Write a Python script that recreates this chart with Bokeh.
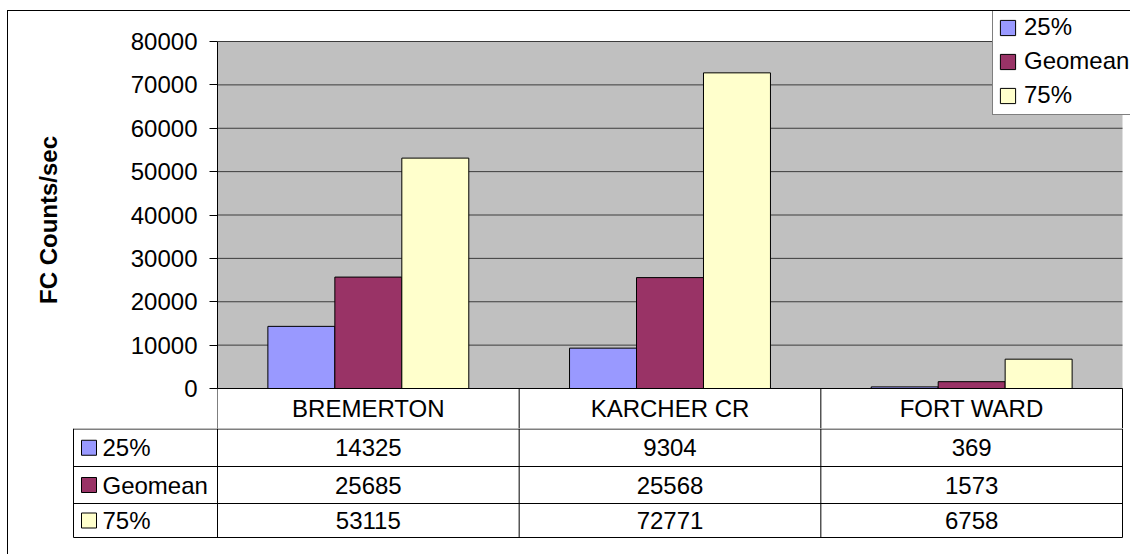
from bokeh.plotting import figure
from bokeh.models import (ColumnDataSource, Range1d, FixedTicker, NumeralTickFormatter,
                          Legend, LegendItem, BoxAnnotation)
from bokeh.transform import dodge
from bokeh.layouts import column
from bokeh.core.properties import value
from bokeh.embed import file_html
from bokeh.resources import INLINE

# ---------------- data ----------------
categories = ["BREMERTON", "KARCHER CR", "FORT WARD"]
series_names = ["25%", "Geomean", "75%"]
p25 = [14325, 9304, 369]
geomean = [25685, 25568, 1573]
p75 = [53115, 72771, 6758]
y_ticks = [0, 10000, 20000, 30000, 40000, 50000, 60000, 70000, 80000]
y_title = "FC Counts/sec"

# ---------------- style / layout ----------------
colors = ["#9999FF", "#993366", "#FFFFCC"]
FONT = "Liberation Sans"
FS = "24px"

ORIGIN_X, ORIGIN_Y = 8, 11          # canvas origin on the page (after css margin + border)
W = 1122
FRAME_LEFT, FRAME_RIGHT = 217, 1122  # gray plot area, page px
Y_TOP_PX, Y_ZERO_PX = 41, 388        # page px of top tick and of zero
HEADER_BOTTOM = 428
TABLE_LEFT = 73
TABLE_ROWS_PX = [428, 466, 503, 537]
TOP_H = HEADER_BOTTOM - ORIGIN_Y
BOT_H = 126

ncat = len(categories)
nser = len(series_names)
series_values = [p25, geomean, p75]
fields = ["s0", "s1", "s2"]
data = {"cat": categories, "xi": [i + 0.5 for i in range(ncat)]}
for f, v in zip(fields, series_values):
    data[f] = v
src = ColumnDataSource(data)

ppu = (FRAME_RIGHT - FRAME_LEFT) / ncat                # px per category
vpp = y_ticks[-1] / (Y_ZERO_PX - Y_TOP_PX)             # value per px
x_end = ncat + (ORIGIN_X + W - FRAME_RIGHT) / ppu
y_end = y_ticks[-1] + (Y_TOP_PX - ORIGIN_Y) * vpp
y_start = -(HEADER_BOTTOM - Y_ZERO_PX) * vpp

pA = figure(width=W, height=TOP_H,
            x_range=Range1d(0, x_end), y_range=Range1d(y_start, y_end),
            output_backend="svg", toolbar_location=None,
            min_border_left=FRAME_LEFT - ORIGIN_X, min_border_right=0,
            min_border_top=0, min_border_bottom=0,
            background_fill_color="white", border_fill_color="white",
            outline_line_color=None)
pA.frame_align = False

pA.add_layout(BoxAnnotation(left=0, right=ncat, bottom=0, top=y_ticks[-1],
                            fill_color="#C0C0C0", fill_alpha=1, line_color=None, level="image"))
pA.xaxis.visible = False
pA.grid.visible = False
pA.segment(x0=[0] * len(y_ticks), x1=[ncat] * len(y_ticks), y0=y_ticks, y1=y_ticks,
           line_color="#3c3c3c", line_width=1)

bw = 0.222
renderers = []
for i, (f, c) in enumerate(zip(fields, colors)):
    r = pA.vbar(x=dodge("xi", (i - (nser - 1) / 2) * bw), top=f, bottom=0,
                width=bw, source=src, fill_color=c, line_color="black", line_width=1)
    renderers.append(r)

# table header row (under the plot area)
pA.segment(x0=[0], x1=[ncat], y0=[0], y1=[0], line_color="black", line_width=1)
pA.segment(x0=list(range(ncat + 1)), x1=list(range(ncat + 1)), y0=[0] * (ncat + 1),
           y1=[y_start] * (ncat + 1), line_color="black", line_width=1)
pA.text(x="xi", y=0, text="cat", source=src, y_offset=(HEADER_BOTTOM - Y_ZERO_PX) / 2,
        text_font=value(FONT), text_font_size=FS, text_align="center",
        text_baseline="middle", text_color="black")

ax = pA.yaxis[0]
ax.bounds = (y_ticks[0], y_ticks[-1])
ax.ticker = FixedTicker(ticks=y_ticks)
ax.formatter = NumeralTickFormatter(format="0")
ax.major_tick_out = 8
ax.major_tick_in = 0
ax.minor_tick_out = 0
ax.minor_tick_in = 0
ax.major_tick_line_color = "black"
ax.major_label_standoff = 12
ax.major_label_text_font = FONT
ax.major_label_text_font_size = FS
ax.major_label_text_color = "black"
ax.axis_line_color = "black"
ax.axis_label = y_title
ax.axis_label_text_font = FONT
ax.axis_label_text_font_size = FS
ax.axis_label_text_font_style = "bold"
ax.axis_label_text_color = "black"
ax.axis_label_standoff = 66

legend = Legend(items=[LegendItem(label=nm, renderers=[r]) for nm, r in zip(series_names, renderers)],
                location=(992 - FRAME_LEFT, HEADER_BOTTOM - 115), orientation="vertical",
                label_text_font=FONT, label_text_font_size=FS, label_text_color="black",
                glyph_width=19, glyph_height=19, label_standoff=7,
                padding=5, spacing=6, margin=0,
                border_line_color="black", border_line_width=1,
                background_fill_color="white", background_fill_alpha=1)
pA.add_layout(legend)

# ---------------- data table rows ----------------
x0 = -(FRAME_LEFT - ORIGIN_X) / ppu
xl = -(FRAME_LEFT - TABLE_LEFT) / ppu

pB = figure(width=W, height=BOT_H, x_range=Range1d(x0, x_end), y_range=Range1d(BOT_H, 0),
            output_backend="svg", toolbar_location=None,
            x_axis_location=None, y_axis_location=None,
            min_border_left=0, min_border_right=0, min_border_top=0, min_border_bottom=0,
            outline_line_color=None, border_fill_color="white", background_fill_color="white")
pB.frame_align = False
pB.grid.visible = False

row_bounds = [r - HEADER_BOTTOM for r in TABLE_ROWS_PX]
row_bounds[0] = 0.5
pB.segment(x0=[xl] * len(row_bounds), y0=row_bounds, x1=[ncat] * len(row_bounds), y1=row_bounds,
           line_color="black", line_width=1)
vx = list(range(ncat + 1)) + [xl]
pB.segment(x0=vx, y0=[0] * len(vx), x1=vx, y1=[row_bounds[-1]] * len(vx),
           line_color="black", line_width=1)

row_centers = [(row_bounds[k] + row_bounds[k + 1]) / 2 for k in range(len(row_bounds) - 1)]
tx, ty, tt = [], [], []
for j, vals in enumerate(series_values):
    for i, v in enumerate(vals):
        tx.append(i + 0.5)
        ty.append(row_centers[j])
        tt.append(str(v))
pB.text(x=tx, y=ty, text=tt, text_font=value(FONT), text_font_size=FS,
        text_align="center", text_baseline="middle", text_color="black")
pB.rect(x=[xl + 15.5 / ppu] * nser, y=row_centers, width=15, height=15,
        width_units="screen", height_units="screen", fill_color=colors,
        line_color="black", line_width=1)
pB.text(x=[xl + 29 / ppu] * nser, y=row_centers, text=series_names, text_font=value(FONT),
        text_font_size=FS, text_align="left", text_baseline="middle", text_color="black")

layout = column(pA, pB, spacing=0,
                styles={"margin-left": "7px", "margin-top": "10px",
                        "border-left": "1px solid black", "border-top": "1px solid black"})

open("out.html", "w").write(file_html(layout, INLINE))
